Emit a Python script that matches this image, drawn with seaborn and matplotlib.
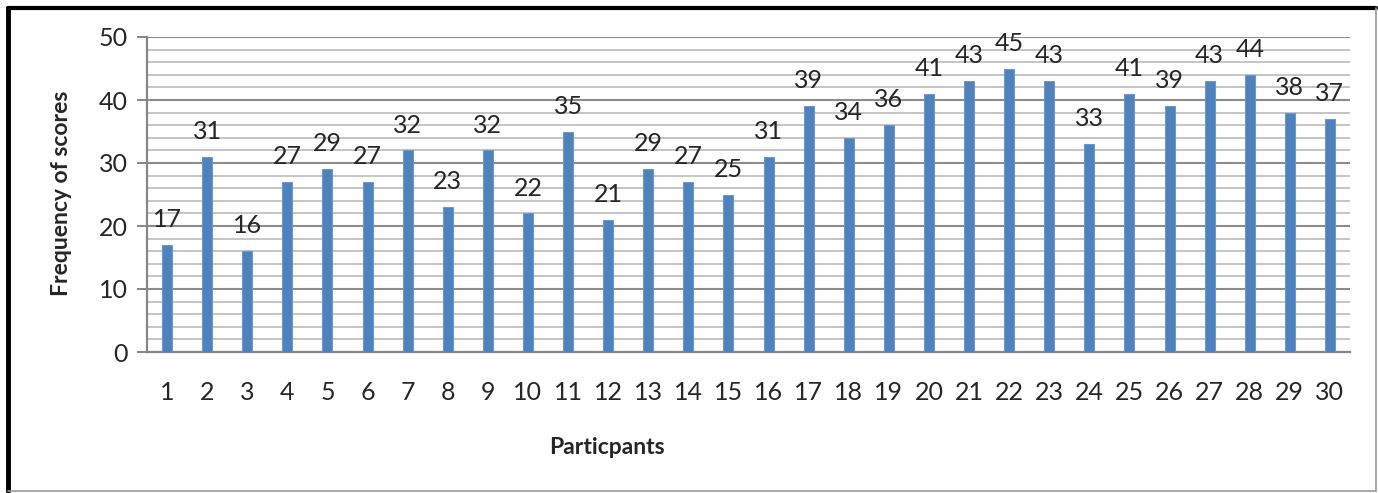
import matplotlib
matplotlib.use("Agg")
import matplotlib.pyplot as plt
from matplotlib.ticker import MultipleLocator
from matplotlib.lines import Line2D
import seaborn as sns
import pandas as pd

participants = [str(i) for i in range(1, 31)]
scores = [17, 31, 16, 27, 29, 27, 32, 23, 32, 22, 35, 21, 29, 27, 25,
          31, 39, 34, 36, 41, 43, 45, 43, 33, 41, 39, 43, 44, 38, 37]

sns.set_theme(style="white")
plt.rcParams["font.family"] = ["Lato", "DejaVu Sans"]

df = pd.DataFrame({"participant": participants, "score": scores})

fig = plt.figure(figsize=(13.78, 4.93), dpi=100)
ax = fig.add_axes([147 / 1378, 1 - 352 / 493, (1350 - 147) / 1378, (352 - 37) / 493])

sns.barplot(data=df, x="participant", y="score", order=participants,
            color="#4F81BD", saturation=1, width=0.25, ax=ax, zorder=3,
            edgecolor="#6E97CB", linewidth=0.8)

ax.set_ylim(0, 50)
ax.set_xlim(-0.5, len(participants) - 0.5)
ax.yaxis.set_major_locator(MultipleLocator(10))
ax.yaxis.set_minor_locator(MultipleLocator(2))
ax.grid(axis="y", which="major", color="#8C8C8C", linewidth=1.5, zorder=0)
ax.grid(axis="y", which="minor", color="#C0C0C0", linewidth=1.3, zorder=0)
ax.set_axisbelow(True)

for side in ("top", "right"):
    ax.spines[side].set_visible(False)
for side in ("left", "bottom"):
    ax.spines[side].set_color("#868686")
    ax.spines[side].set_linewidth(1.6)

ax.tick_params(axis="y", which="major", length=7, width=1.4, color="#868686",
               labelsize=18, pad=7, left=True)
ax.tick_params(axis="y", which="minor", length=0)
ax.tick_params(axis="x", length=0, labelsize=18, pad=21)

for container in ax.containers:
    ax.bar_label(container, labels=[str(v) for v in scores], padding=10, fontsize=18)

ax.set_xlabel("")
ax.set_ylabel("")
fig.text(607 / 1378, 1 - 447 / 493, "Particpants", fontsize=16.5, fontweight="bold",
         ha="center", va="center")
fig.text(62 / 1378, 1 - 193 / 493, "Frequency of scores", fontsize=16.5, fontweight="bold",
         ha="center", va="center", rotation=90)

# frame around the figure: heavy top/left edges, thin grey right/bottom edges
W, H = 1378, 493
fig.add_artist(Line2D([8 / W, 8 / W], [1 - 8 / H, 1 - 491 / H], color="black",
                      linewidth=3.5, transform=fig.transFigure))
fig.add_artist(Line2D([8 / W, 1376 / W], [1 - 8 / H, 1 - 8 / H], color="black",
                      linewidth=3.0, transform=fig.transFigure))
fig.add_artist(Line2D([1376 / W, 1376 / W], [1 - 8 / H, 1 - 491 / H], color="#9A9A9A",
                      linewidth=1.2, transform=fig.transFigure))
fig.add_artist(Line2D([8 / W, 1376 / W], [1 - 491 / H, 1 - 491 / H], color="#9A9A9A",
                      linewidth=1.2, transform=fig.transFigure))

fig.savefig("out.png", dpi=100)
